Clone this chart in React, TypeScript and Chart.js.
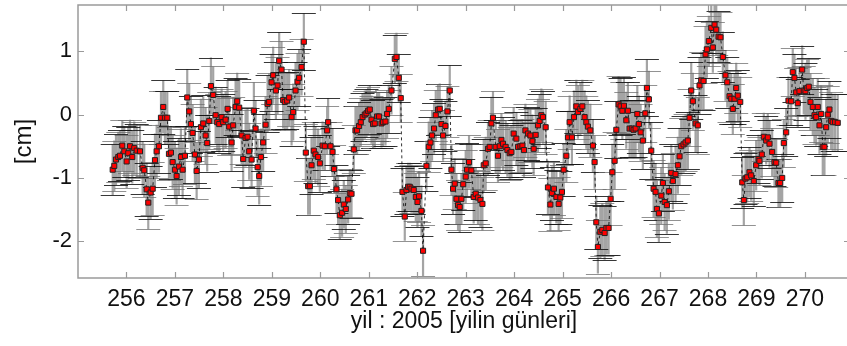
import { useEffect, useRef } from "react";
import { Chart, registerables } from "chart.js";
Chart.register(...registerables);

// Day of year 2005 for each observation
const DAYS = [
  255.716, 255.749, 255.784, 255.831, 255.866, 255.914, 255.955, 256.004, 256.037, 256.073,
  256.120, 256.161, 256.211, 256.279, 256.334, 256.367, 256.417, 256.450, 256.499, 256.541,
  256.588, 256.623, 256.670, 256.712, 256.759, 256.794, 256.842, 256.877, 256.918, 256.953,
  257.000, 257.035, 257.083, 257.124, 257.159, 257.207, 257.254, 257.295, 257.330, 257.365,
  257.413, 257.448, 257.495, 257.536, 257.584, 257.633, 257.666, 257.708, 257.743, 257.790,
  257.840, 257.873, 257.914, 257.963, 257.996, 258.046, 258.087, 258.120, 258.169, 258.202,
  258.252, 258.285, 258.326, 258.376, 258.409, 258.458, 258.499, 258.532, 258.582, 258.629,
  258.664, 258.706, 258.739, 258.774, 258.821, 258.871, 258.912, 258.945, 258.994, 259.027,
  259.083, 259.118, 259.151, 259.200, 259.233, 259.268, 259.316, 259.357, 259.407, 259.440,
  259.489, 259.530, 259.563, 259.613, 259.660,
  259.701, 259.749, 259.784, 259.819, 259.866, 259.901, 259.955, 259.990, 260.046, 260.093,
  260.141, 260.161, 260.211, 260.252, 260.285, 260.334, 260.367, 260.402, 260.450, 260.485,
  260.526, 260.574, 260.609, 260.644, 260.691, 260.726, 260.759, 260.800, 260.835, 260.871,
  260.918, 260.953, 260.986, 261.021, 261.056, 261.089, 261.124, 261.172, 261.213, 261.262,
  261.295, 261.345, 261.378, 261.413, 261.469, 261.537, 261.572, 261.619, 261.660, 261.695,
  261.743, 261.778, 261.811, 261.846, 261.881, 261.928, 261.970, 262.005, 262.038, 262.087,
  262.120, 262.190, 262.238, 262.273, 262.306, 262.347, 262.382, 262.429, 262.464, 262.500,
  262.533, 262.582, 262.623, 262.671, 262.706, 262.739, 262.774, 262.809, 262.842, 262.877,
  262.912, 262.949, 263.000, 263.027, 263.069,
  263.118, 263.165, 263.207, 263.254, 263.304, 263.345, 263.372, 263.413, 263.460, 263.495,
  263.530, 263.563, 263.619, 263.666, 263.702, 263.737, 263.770, 263.825, 263.860, 263.908,
  263.943, 263.990, 264.046, 264.079, 264.128, 264.170, 264.203, 264.232, 264.285, 264.335,
  264.376, 264.403, 264.444, 264.491, 264.526, 264.561, 264.594, 264.650, 264.697, 264.747,
  264.780, 264.821, 264.871, 264.918, 264.953, 264.986, 265.021, 265.077, 265.110, 265.145,
  265.192, 265.234, 265.283, 265.316, 265.366, 265.407, 265.454, 265.489, 265.522, 265.572,
  265.625, 265.660, 265.695, 265.728, 265.778, 265.819, 265.867, 265.902, 265.949, 265.990,
  266.025, 266.073, 266.108, 266.155, 266.196, 266.232, 266.265, 266.314, 266.347, 266.382,
  266.429, 266.464, 266.506, 266.541, 266.574, 266.609, 266.656, 266.706, 266.739, 266.780,
  266.829, 266.877, 266.918, 266.945, 266.986, 267.036, 267.069, 267.104, 267.151, 267.192,
  267.242, 267.275, 267.330, 267.378, 267.413, 267.448, 267.495, 267.537, 267.584, 267.619,
  267.654, 267.687, 267.743, 267.790, 267.825, 267.860, 267.908, 267.949, 267.976, 268.017,
  268.067, 268.100, 268.135, 268.170, 268.217, 268.258, 268.306, 268.361, 268.397, 268.444,
  268.479, 268.512, 268.547, 268.582, 268.615, 268.665, 268.706, 268.739, 268.774, 268.809,
  268.856, 268.891, 268.945, 268.994, 269.042, 269.062, 269.110, 269.151, 269.201, 269.234,
  269.269, 269.324, 269.372, 269.407, 269.454, 269.489, 269.531, 269.564, 269.613, 269.660,
  269.716, 269.749, 269.784, 269.819, 269.852, 269.887, 269.943, 269.976, 270.011, 270.046,
  270.079, 270.114, 270.162, 270.197, 270.232, 270.265, 270.300, 270.335, 270.368, 270.403,
  270.438, 270.471, 270.506, 270.541, 270.574, 270.623, 270.677,
];

// Displacement [cm]
const DISP = [
  -0.87, -0.81, -0.71, -0.67, -0.65, -0.49, -0.58, -0.74, -0.61, -0.50,
  -0.67, -0.53, -0.57, -0.58, -0.84, -0.88, -1.18, -1.39, -1.23, -1.17,
  -0.72, -0.58, -0.50, -0.05, 0.12, -0.05, -0.05, -0.62, -0.60, -0.75,
  -0.87, -0.97, -0.82, -0.67, -0.87, -0.65, 0.27, 0.05, -0.15, -0.29,
  -0.63, -0.89, -0.71, -0.20, -0.14, -0.33, -0.45, -0.10, 0.45, 0.31,
  -0.01, -0.12, -0.15, -0.04, -0.12, -0.08, 0.09, -0.19, -0.44, -0.17,
  0.12, 0.21, 0.11, -0.33, -0.70, -0.37, -0.35, -0.58, -0.71, 0.06,
  -0.22, -0.83, -0.97, -0.67, -0.44, -0.16, 0.17, 0.20, 0.51, 0.62,
  0.38, 0.46, 0.85, 0.71, 0.23, 0.20, 0.22, 0.27, -0.04, 0.04,
  0.38, 0.52, 0.58, 0.75, 1.15,
  -0.60, -1.13, -1.13, -0.80, -0.57, -0.63, -0.67, -0.77, -0.49, -0.50,
  -0.25, -0.12, -0.50, -0.59, -0.86, -1.18, -1.35, -1.59, -1.55, -1.42,
  -1.49, -1.34, -1.24, -1.25, -0.55, -0.25, -0.25, -0.18, -0.12, -0.04,
  0.00, 0.02, 0.06, 0.08, -0.08, -0.15, -0.14, -0.03, -0.03, -0.14,
  -0.12, -0.11, 0.01, 0.09, 0.38, 0.88, 0.91, 0.58, 0.26, -1.22,
  -1.61, -1.19, -1.14, -1.14, -1.17, -1.19, -1.30, -1.38, -1.29, -1.52,
  -2.15, -0.81, -0.51, -0.44, -0.33, -0.22, -0.01, 0.08, 0.09, -0.15,
  -0.33, -0.18, 0.05, 0.38, -0.87, -1.17, -1.09, -1.33, -1.43, -1.46,
  -1.33, -1.10, -0.98, -0.87, -0.75,
  -0.88, -1.30, -1.25, -1.31, -1.35, -1.41, -0.80, -0.77, -0.54, -0.51,
  -0.14, -0.05, -0.51, -0.65, -0.50, -0.40, -0.46, -0.51, -0.56, -0.61,
  -0.59, -0.30, -0.38, -0.51, -0.50, -0.49, -0.56, -0.25, -0.30, -0.33,
  -0.42, -0.54, -0.32, -0.17, -0.10, -0.01, -0.04, -0.20, -1.15, -1.42,
  -1.24, -1.17, -1.30, -1.41, -1.31, -1.22, -0.87, -0.65, -0.36, -0.12,
  -0.36, -0.04, 0.13, 0.04, 0.09, 0.13, -0.04, -0.12, -0.19, -0.25,
  -0.49, -0.75, -1.70, -2.09, -1.85, -1.82, -1.87, -1.79, -1.79, -1.33,
  -0.91, -0.73, -0.24, 0.16, 0.13, 0.06, 0.14, -0.09, 0.06, -0.22,
  -0.22, -0.24, -0.22, 0.01, -0.15, -0.28, -0.41, 0.02, 0.42, 0.24,
  -0.57, -1.17, -1.22, -1.49, -1.56, -1.28, -1.08, -1.38, -1.43, -1.21,
  -0.92, -1.05, -0.94, -0.80, -0.66, -0.50, -0.47, -0.44, -0.41, -0.05,
  0.38, 0.21, -0.14, -0.17, 0.46, 0.54, 0.53, 0.95, 1.03, 1.16,
  1.37, 1.06, 1.42, 1.34, 1.23, 1.22, 0.91, 0.62, 0.51, 0.29,
  0.25, 0.09, 0.25, 0.42, 0.30, 0.20, -1.07, -1.35, -1.01, -0.99,
  -0.91, -0.96, -1.05, -0.80, -0.70, -0.73, -0.63, -0.35, -0.41, -0.36,
  -0.46, -0.59, -0.75, -0.76, -1.08, -1.08, -1.00, -0.45, -0.28, 0.22,
  0.21, 0.67, 0.58, 0.35, 0.18, 0.37, 0.71, 0.38, 0.37, 0.42,
  0.44, 0.20, 0.12, -0.01, -0.04, 0.12, -0.17, 0.01, -0.51, -0.51,
  -0.20, 0.00, 0.08, -0.10, -0.12, -0.12, -0.13,
];

// Error bar half-length [cm], per day (255 ... 270)
const ERR_DAY_START = 255;
const ERR_BY_DAY = [0.4, 0.42, 0.45, 0.45, 0.45, 0.38, 0.38, 0.4, 0.42, 0.42, 0.42, 0.45, 0.45, 0.4, 0.38, 0.45];

const X_TICKS = [256, 257, 258, 259, 260, 261, 262, 263, 264, 265, 266, 267, 268, 269, 270];
const Y_TICKS = [-2, -1, 0, 1];
const X_TITLE = "yil : 2005 [yilin günleri]";
const Y_TITLE = "[cm]";

const FONT = "'Liberation Sans', Arial, sans-serif";

function errOf(d: number) {
  return ERR_BY_DAY[Math.floor(d) - ERR_DAY_START];
}

const errorBarPlugin = {
  id: "errbars",
  beforeDatasetsDraw(chart: any) {
    const { ctx, chartArea, scales } = chart;
    const x = scales.x, y = scales.y;
    ctx.save();
    ctx.beginPath();
    ctx.rect(chartArea.left, chartArea.top, chartArea.right - chartArea.left, chartArea.bottom - chartArea.top);
    ctx.clip();
    ctx.strokeStyle = "rgba(125,125,125,0.7)";
    ctx.lineWidth = 2.2;
    ctx.beginPath();
    DAYS.forEach((d, i) => {
      const e = errOf(d);
      const px = x.getPixelForValue(d);
      ctx.moveTo(px, y.getPixelForValue(DISP[i] + e));
      ctx.lineTo(px, y.getPixelForValue(DISP[i] - e));
    });
    ctx.stroke();
    const cap = 12;
    DAYS.forEach((d, i) => {
      const e = errOf(d);
      const px = x.getPixelForValue(d);
      const top = y.getPixelForValue(DISP[i] + e);
      const bot = y.getPixelForValue(DISP[i] - e);
      ctx.lineWidth = 1;
      ctx.strokeStyle = i % 2 === 0 ? "rgba(20,20,20,0.85)" : "rgba(110,110,110,0.75)";
      ctx.beginPath();
      ctx.moveTo(px - cap, Math.round(top) + 0.5);
      ctx.lineTo(px + cap, Math.round(top) + 0.5);
      ctx.moveTo(px - cap, Math.round(bot) + 0.5);
      ctx.lineTo(px + cap, Math.round(bot) + 0.5);
      ctx.stroke();
    });
    ctx.restore();
  },
  afterDraw(chart: any) {
    const { ctx, chartArea, scales } = chart;
    const x = scales.x, y = scales.y;
    const { left, right, top, bottom } = chartArea;
    ctx.save();
    ctx.strokeStyle = "#9a9a9a";
    ctx.lineWidth = 1.5;
    ctx.strokeRect(left, top, right - left, bottom - top);
    ctx.lineWidth = 1.2;
    ctx.beginPath();
    const tl = 6;
    X_TICKS.forEach((v) => {
      const px = Math.round(x.getPixelForValue(v)) + 0.5;
      ctx.moveTo(px, bottom);
      ctx.lineTo(px, bottom - tl);
      ctx.moveTo(px, top);
      ctx.lineTo(px, top + tl);
    });
    Y_TICKS.forEach((v) => {
      const py = Math.round(y.getPixelForValue(v)) + 0.5;
      ctx.moveTo(left, py);
      ctx.lineTo(left + tl, py);
      ctx.moveTo(right, py);
      ctx.lineTo(right - tl, py);
    });
    ctx.stroke();
    ctx.restore();
  },
};

export default function App() {
  const ref = useRef<HTMLCanvasElement | null>(null);
  useEffect(() => {
    if (!ref.current) return;
    const chart = new Chart(ref.current, {
      type: "line",
      data: {
        datasets: [
          {
            data: DAYS.map((d, i) => ({ x: d, y: DISP[i] })),
            showLine: true,
            borderColor: "rgba(0,0,0,0.8)",
            borderWidth: 1,
            borderDash: [3, 3],
            pointStyle: "rect",
            pointRadius: 3.6,
            pointBackgroundColor: "#ff0000",
            pointBorderColor: "#222",
            pointBorderWidth: 1,
            tension: 0,
          },
        ],
      },
      options: {
        responsive: false,
        animation: false,
        devicePixelRatio: 1,
        layout: { padding: { left: 0, top: 5, right: 10, bottom: 0 } },
        plugins: { legend: { display: false }, tooltip: { enabled: false } },
        scales: {
          x: {
            type: "linear",
            min: 255,
            max: 270.93,
            grid: { display: false, drawTicks: false },
            border: { display: false },
            afterBuildTicks: (s: any) => {
              s.ticks = X_TICKS.map((v) => ({ value: v }));
            },
            afterFit: (s: any) => {
              s.height = 68;
              s.paddingLeft = 0;
              s.paddingRight = 0;
            },
            ticks: {
              autoSkip: false,
              maxRotation: 0,
              padding: 8,
              color: "#111",
              font: { family: FONT, size: 23 },
              callback: (v: any) => String(v),
            },
            title: {
              display: true,
              text: X_TITLE,
              color: "#111",
              font: { family: FONT, size: 23 },
              padding: { top: 0, bottom: 11 },
            },
          },
          y: {
            type: "linear",
            min: -2.58,
            max: 1.73,
            grid: { display: false, drawTicks: false },
            border: { display: false },
            afterBuildTicks: (s: any) => {
              s.ticks = Y_TICKS.map((v) => ({ value: v }));
            },
            afterFit: (s: any) => {
              s.width = 78;
              s.paddingTop = 0;
              s.paddingBottom = 0;
            },
            ticks: {
              padding: 6,
              color: "#111",
              font: { family: FONT, size: 22 },
              callback: (v: any) => String(v),
            },
            title: {
              display: true,
              text: Y_TITLE,
              color: "#111",
              font: { family: FONT, size: 24 },
              padding: { top: 10, bottom: 0 },
            },
          },
        },
      },
      plugins: [errorBarPlugin],
    } as any);
    return () => chart.destroy();
  }, []);
  return (
    <div style={{ position: "fixed", left: 0, top: 0, width: 847, height: 346, overflow: "hidden", background: "#fff" }}>
      <canvas ref={ref} width={860} height={346} style={{ display: "block" }} />
    </div>
  );
}
